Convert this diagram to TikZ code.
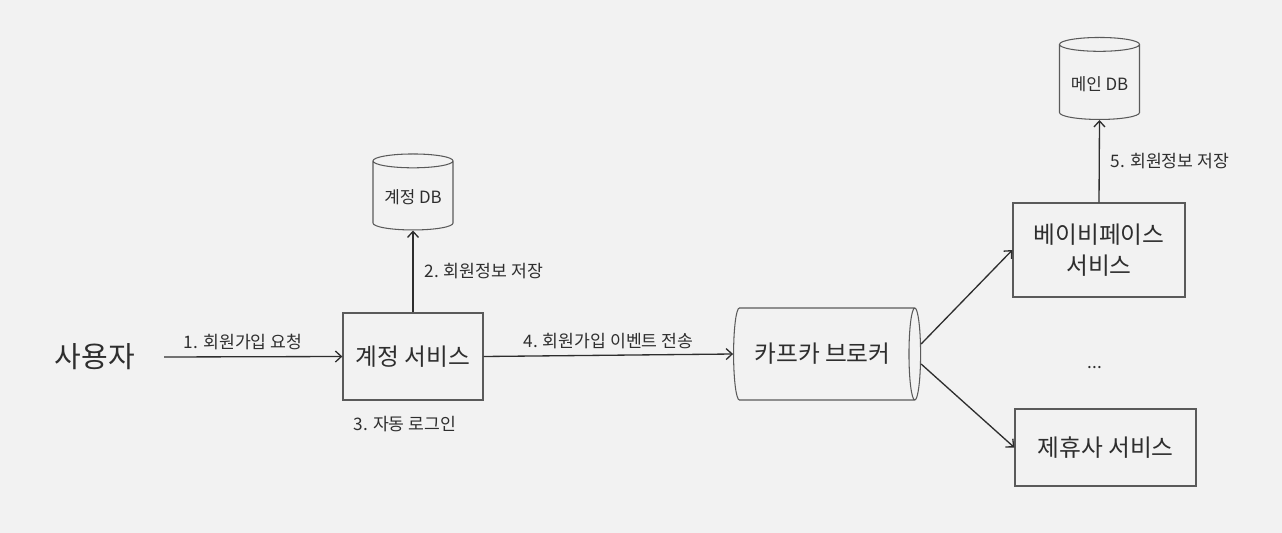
\documentclass[tikz,border=0pt]{standalone}
\usepackage{fontspec}
\setmainfont{Noto Sans CJK KR}
\usepackage{tikz}
\usetikzlibrary{shapes.geometric, arrows.meta, positioning}
\definecolor{canvas}{HTML}{F2F2F2}
\definecolor{inkcolor}{HTML}{2E2E2E}
\definecolor{bordercolor}{HTML}{5A5A5A}

\begin{document}
\begin{tikzpicture}[
  svc/.style={rectangle, draw=bordercolor, line width=0.75pt, align=center, text=inkcolor, font=\fontsize{13.5}{17.5}\selectfont},
  db/.style={cylinder, shape border rotate=90, aspect=0.2, draw=bordercolor, line width=0.6pt, minimum width=1.6cm, minimum height=1.52cm, text=inkcolor, font=\fontsize{9.6}{11}\selectfont},
  broker/.style={cylinder, aspect=0.35, draw=bordercolor, line width=0.6pt, minimum width=1.84cm, minimum height=3.74cm, text=inkcolor, font=\fontsize{13.5}{16}\selectfont},
  lbl/.style={text=inkcolor, font=\fontsize{9.8}{12}\selectfont},
  arrow/.style={-{Straight Barb[length=1.2mm, width=2.2mm]}, draw=inkcolor, line width=0.75pt}
]
  % Canvas
  \fill[canvas] (0,0) rectangle (25.64,-10.66);
  \useasboundingbox (0,0) rectangle (25.64,-10.66);

  % Actor
  \node[text=inkcolor, font=\fontsize{16.5}{20}\selectfont] (user) at (1.9,-7.14) {사용자};
  \coordinate (start) at (3.28,-7.14);

  % Services
  \node[svc, minimum width=2.8cm, minimum height=1.74cm] (acct) at (8.26,-7.13) {계정 서비스};
  \node[svc, minimum width=3.44cm, minimum height=1.88cm] (baby) at (21.98,-5.0) {베이비페이스\\서비스};
  \node[svc, minimum width=3.62cm, minimum height=1.54cm] (partner) at (22.11,-8.95) {제휴사 서비스};

  % Stores
  \node[db] (acctdb) at (8.26,-3.95) {계정 DB};
  \node[db, minimum height=1.64cm] (maindb) at (21.99,-1.68) {메인 DB};
  \node[broker] (kafka) at (16.45,-7.08) {카프카 브로커};
  \node[lbl] (more) at (21.9,-7.36) {...};

  % Flow
  \draw[arrow] (start) -- node[lbl, above, xshift=-2mm] {1. 회원가입 요청} (acct.west);
  \draw[arrow] (acct.north) -- node[lbl, right, xshift=1mm] {2. 회원정보 저장} (acctdb.south);
  \node[lbl, anchor=west] (login) at ([xshift=1mm, yshift=-4.6mm]acct.south west) {3. 자동 로그인};
  \draw[arrow] (acct.east) -- node[lbl, above] {4. 회원가입 이벤트 전송} (kafka.west);
  \draw[arrow] ([yshift=2mm]kafka.east) -- (baby.west);
  \draw[arrow] ([yshift=-2mm]kafka.east) -- (partner.west);
  \draw[arrow] (baby.north) -- node[lbl, right, xshift=1mm] {5. 회원정보 저장} (maindb.south);
\end{tikzpicture}
\end{document}
